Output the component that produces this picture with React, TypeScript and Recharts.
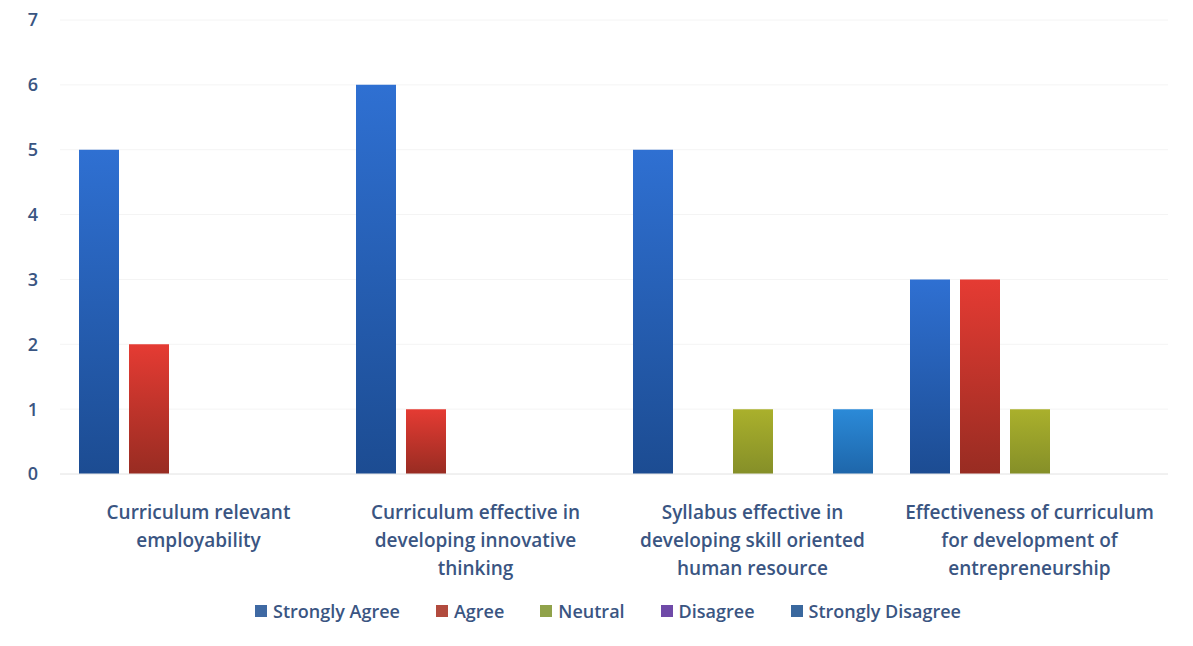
import React from "react";
import { BarChart, Bar, XAxis, YAxis, CartesianGrid, Legend } from "recharts";

const categoryLines: string[][] = [
  ["Curriculum relevant", "employability"],
  ["Curriculum effective in", "developing innovative", "thinking"],
  ["Syllabus effective in", "developing skill oriented", "human resource"],
  ["Effectiveness of curriculum", "for development of", "entrepreneurship"],
];

const stronglyAgree = [5, 6, 5, 3];
const agree = [2, 1, 0, 3];
const neutral = [0, 0, 1, 1];
const disagree = [0, 0, 0, 0];
const stronglyDisagree = [0, 0, 1, 0];

const yTicks = [0, 1, 2, 3, 4, 5, 6, 7];

const seriesNames = ["Strongly Agree", "Agree", "Neutral", "Disagree", "Strongly Disagree"];
const seriesKeys = ["sa", "a", "n", "d", "sd"];
const barTop = ["#2f70d2", "#e53b33", "#aab02c", "#7c4fc0", "#2b8ad8"];
const barBottom = ["#1c4c92", "#982c22", "#858f28", "#55308a", "#1e66aa"];
const legendColors = ["#3f69a3", "#b24b3e", "#90a24a", "#6f4aa8", "#3a689e"];

const data = categoryLines.map((lines, i) => ({
  name: lines.join(" "),
  idx: i,
  sa: stronglyAgree[i],
  a: agree[i],
  n: neutral[i],
  d: disagree[i],
  sd: stronglyDisagree[i],
}));

const textColor = "#3a5582";
const font = "'Open Sans', Lato, sans-serif";

function CategoryTick(props: any) {
  const { x, y, payload } = props;
  const lines = categoryLines[payload.index] || [];
  return (
    <text
      x={x}
      y={y}
      textAnchor="middle"
      fill={textColor}
      fontFamily={font}
      fontWeight={600}
      fontSize={19}
    >
      {lines.map((l, i) => (
        <tspan key={i} x={x} dy={i === 0 ? 37 : 28}>
          {l}
        </tspan>
      ))}
    </text>
  );
}

function LegendContent() {
  return (
    <div
      style={{
        display: "flex",
        justifyContent: "center",
        alignItems: "center",
        height: 30,
        paddingLeft: 48,
        fontFamily: font,
        fontWeight: 600,
        fontSize: 18,
        color: textColor,
        gap: 36,
      }}
    >
      {seriesNames.map((n, i) => (
        <div key={n} style={{ display: "flex", alignItems: "center" }}>
          <span
            style={{
              display: "inline-block",
              width: 12,
              height: 12,
              background: legendColors[i],
              marginRight: 6,
            }}
          />
          {n}
        </div>
      ))}
    </div>
  );
}

export default function App() {
  return (
    <div style={{ width: 1193, height: 646, background: "#fff" }}>
      <style>{`body{margin:0}`}</style>
      <BarChart
        width={1193}
        height={646}
        data={data}
        margin={{ top: 20, right: 25, bottom: 20, left: 0 }}
        barGap={10}
        barSize={40}
      >
        <defs>
          {seriesKeys.map((k, i) => (
            <linearGradient key={k} id={`g-${k}`} x1="0" y1="0" x2="0" y2="1">
              <stop offset="0%" stopColor={barTop[i]} />
              <stop offset="100%" stopColor={barBottom[i]} />
            </linearGradient>
          ))}
        </defs>
        <CartesianGrid vertical={false} stroke="#f4f4f4" />
        <XAxis
          dataKey="name"
          axisLine={{ stroke: "#e8e8e8" }}
          tickLine={false}
          interval={0}
          height={122}
          tick={<CategoryTick />}
        />
        <YAxis
          domain={[0, 7]}
          ticks={yTicks}
          width={60}
          axisLine={false}
          tickLine={false}
          tickSize={0}
          tickMargin={22}
          tick={{ fill: textColor, fontSize: 18, fontFamily: font, fontWeight: 600 }}
        />
        <Legend verticalAlign="bottom" height={30} content={<LegendContent />} />
        {seriesKeys.map((k, i) => (
          <Bar
            key={k}
            dataKey={k}
            name={seriesNames[i]}
            fill={`url(#g-${k})`}
            isAnimationActive={false}
          />
        ))}
      </BarChart>
    </div>
  );
}
